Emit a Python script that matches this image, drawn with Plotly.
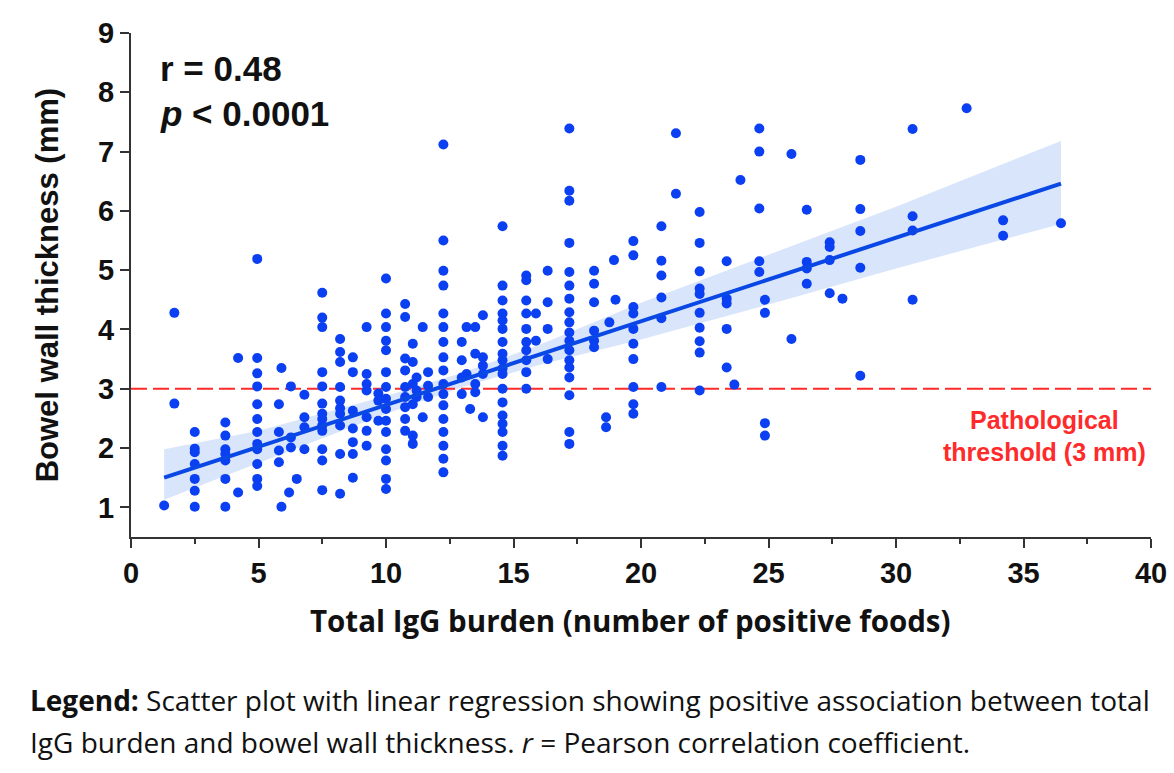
import plotly.graph_objects as go

# columns of points: x position and the thickness values stacked at that x
col_burden = [1.3, 1.7, 2.5, 3.7, 4.2, 4.95, 5.8, 5.9, 6.2, 6.27, 6.5, 6.8, 7.5, 8.2, 8.7,
              9.24, 9.7, 10.0, 10.75, 11.05, 11.2, 11.44, 11.65, 12.25, 12.97, 13.16, 13.3,
              13.5, 13.8, 14.57, 15.5, 15.88, 16.34, 17.19, 18.16, 18.63, 18.76, 18.94, 19.0,
              19.7, 20.8, 21.37, 22.3, 23.36, 23.66, 23.9, 24.64, 24.86, 25.9, 26.5, 27.4,
              27.9, 28.6, 30.65, 32.77, 34.2, 36.47]
col_thickness = [
    [1.03],
    [4.28, 2.75],
    [2.27, 1.99, 1.93, 1.73, 1.48, 1.28, 1.01],
    [2.43, 2.21, 1.98, 1.9, 1.79, 1.48, 1.01],
    [3.52, 1.25],
    [5.19, 3.52, 3.26, 3.04, 2.74, 2.49, 2.27, 2.07, 1.98, 1.73, 1.48, 1.36],
    [2.74, 2.27, 1.96, 1.76],
    [3.35, 1.01],
    [1.25],
    [3.04, 2.18, 2.01],
    [1.48],
    [2.9, 2.52, 2.35, 1.98],
    [4.62, 4.2, 4.04, 3.28, 3.04, 2.75, 2.58, 2.49, 2.38, 2.29, 1.98, 1.79, 1.29],
    [3.84, 3.62, 3.45, 3.03, 2.8, 2.67, 2.58, 2.38, 1.9, 1.23],
    [3.53, 3.28, 2.63, 2.33, 2.1, 1.9, 1.5],
    [4.04, 3.25, 3.08, 2.97, 2.52, 2.29, 2.04],
    [2.92, 2.8, 2.46],
    [4.86, 4.27, 4.04, 3.81, 3.65, 3.28, 3.03, 2.83, 2.66, 2.46, 2.27, 1.98, 1.79, 1.48, 1.31],
    [4.43, 4.21, 3.51, 3.31, 3.03, 2.86, 2.69, 2.49, 2.29],
    [3.76, 3.45, 3.08, 2.74, 2.21, 2.07],
    [3.19, 2.97, 2.86],
    [4.04, 2.52],
    [3.28, 3.05, 2.86],
    [7.12, 5.5, 4.99, 4.74, 4.27, 4.04, 3.79, 3.53, 3.31, 3.08, 2.91, 2.72, 2.49, 2.27, 2.04, 1.82, 1.59],
    [3.79, 3.48, 3.19, 2.91],
    [4.04, 3.25],
    [2.66],
    [4.04, 3.59, 3.08, 2.94],
    [4.24, 3.53, 3.39, 3.25, 2.52],
    [5.74, 4.74, 4.49, 4.27, 4.15, 4.01, 3.79, 3.59, 3.48, 3.34, 3.25, 3.0, 2.77, 2.55, 2.41, 2.27, 2.04, 1.87],
    [4.91, 4.83, 4.49, 4.27, 4.01, 3.79, 3.65, 3.48, 3.28, 3.0],
    [4.27, 3.81],
    [4.99, 4.46, 4.01, 3.5],
    [7.39, 6.34, 6.17, 5.46, 4.97, 4.74, 4.52, 4.29, 4.12, 3.95, 3.81, 3.65, 3.48, 3.36, 3.19, 2.89, 2.27, 2.07],
    [4.99, 4.77, 4.46, 3.98, 3.81, 3.7],
    [2.52, 2.35],
    [4.12],
    [5.17],
    [4.5],
    [5.49, 5.25, 4.38, 4.27, 4.01, 3.76, 3.5, 3.03, 2.74, 2.58],
    [5.74, 5.16, 4.91, 4.54, 4.19, 3.03],
    [7.31, 6.29],
    [5.98, 5.46, 4.98, 4.69, 4.6, 4.28, 4.03, 3.8, 3.61, 2.97],
    [5.15, 4.52, 4.44, 4.01, 3.36],
    [3.07],
    [6.52],
    [7.39, 7.0, 6.04, 5.15, 4.97],
    [4.5, 4.28, 2.42, 2.21],
    [6.96, 3.84],
    [6.02, 5.14, 5.03, 4.77],
    [5.47, 5.39, 5.17, 4.61],
    [4.52],
    [6.86, 6.03, 5.66, 5.04, 3.22],
    [7.38, 5.91, 5.67, 4.5],
    [7.73],
    [5.84, 5.58],
    [5.79],
]

# regression line and its confidence band
fit_x = [1.3, 36.47]
fit_y = [1.5, 6.46]
band_x = [1.3, 5, 10, 13, 16, 20, 25, 30, 36.47]
band_lower = [1.13, 1.75, 2.58, 3.03, 3.40, 3.83, 4.42, 5.03, 5.78]
band_upper = [1.98, 2.29, 2.88, 3.27, 3.74, 4.45, 5.26, 6.07, 7.18]

threshold = 3.0

xs, ys = [], []
for bx, col in zip(col_burden, col_thickness):
    for t in col:
        xs.append(bx)
        ys.append(t)

blue = "#0a3ff2"
red = "#ff2a2a"
helv = "Liberation Sans, Arial, sans-serif"
human = "Open Sans, Lato, sans-serif"

fig = go.Figure()

fig.add_trace(go.Scatter(
    x=band_x + band_x[::-1],
    y=band_upper + band_lower[::-1],
    fill="toself", fillcolor="rgba(80,135,235,0.22)",
    line=dict(width=0), mode="lines", hoverinfo="skip", showlegend=False))

fig.add_trace(go.Scatter(
    x=[0, 40], y=[threshold, threshold], mode="lines",
    line=dict(color=red, width=2, dash="16px,6px"), showlegend=False))

fig.add_trace(go.Scatter(
    x=xs, y=ys, mode="markers",
    marker=dict(color=blue, size=10), showlegend=False))

fig.add_trace(go.Scatter(
    x=fit_x, y=fit_y, mode="lines",
    line=dict(color="#0a48e6", width=4), showlegend=False))

fig.update_layout(
    width=1174, height=773,
    margin=dict(l=131, r=23, t=33, b=236, autoexpand=False),
    plot_bgcolor="white", paper_bgcolor="white",
    showlegend=False,
    xaxis=dict(
        range=[0, 40], tickvals=[0, 5, 10, 15, 20, 25, 30, 35, 40],
        ticks="outside", ticklen=9, tickwidth=2, tickcolor="#333",
        minor=dict(tickvals=[2.5, 7.5, 12.5, 17.5, 22.5, 27.5, 32.5, 37.5],
                   ticks="outside", ticklen=5, tickwidth=2, tickcolor="#333"),
        showline=True, linecolor="#333", linewidth=2, showgrid=False, zeroline=False,
        automargin=False, ticklabeloverflow="allow",
        tickfont=dict(family=helv, size=29, color="#111", weight="bold"),
    ),
    yaxis=dict(
        range=[0.5, 9], tickvals=[1, 2, 3, 4, 5, 6, 7, 8, 9],
        ticks="outside", ticklen=9, tickwidth=2, tickcolor="#333",
        showline=True, linecolor="#333", linewidth=2, showgrid=False, zeroline=False,
        automargin=False,
        tickfont=dict(family=helv, size=29, color="#111", weight="bold"),
    ),
)

ann = []
ann.append(dict(xref="paper", yref="paper", x=0.49, y=-0.165, xanchor="center", yanchor="middle",
                text="<b>Total IgG burden (number of positive foods)</b>", showarrow=False,
                font=dict(family=human, size=29.5, color="#111")))
ann.append(dict(xref="paper", yref="paper", x=-0.082, y=0.5, xanchor="center", yanchor="middle",
                textangle=-90, text="<b>Bowel wall thickness (mm)</b>", showarrow=False,
                font=dict(family=helv, size=31, color="#111")))
ann.append(dict(xref="paper", yref="paper", x=0.026, y=0.93, xanchor="left", yanchor="middle",
                text="<b>r = 0.48</b>", showarrow=False,
                font=dict(family=helv, size=35, color="#111")))
ann.append(dict(xref="paper", yref="paper", x=0.026, y=0.84, xanchor="left", yanchor="middle",
                text="<b><i>p</i> < 0.0001</b>", showarrow=False,
                font=dict(family=helv, size=35, color="#111")))
ann.append(dict(xref="paper", yref="paper", x=0.896, y=0.232, xanchor="center", yanchor="middle",
                text="<b>Pathological</b>", showarrow=False,
                font=dict(family=helv, size=25, color=red)))
ann.append(dict(xref="paper", yref="paper", x=0.896, y=0.168, xanchor="center", yanchor="middle",
                text="<b>threshold (3 mm)</b>", showarrow=False,
                font=dict(family=helv, size=25, color=red)))
ann.append(dict(xref="paper", yref="paper", x=-0.101, y=-0.323, xanchor="left", yanchor="middle",
                text="<b>Legend:</b> Scatter plot with linear regression showing positive association between total",
                showarrow=False, font=dict(family=human, size=28, color="#111")))
ann.append(dict(xref="paper", yref="paper", x=-0.101, y=-0.406, xanchor="left", yanchor="middle",
                text="IgG burden and bowel wall thickness. <i>r</i> = Pearson correlation coefficient.",
                showarrow=False, font=dict(family=human, size=28, color="#111")))
fig.update_layout(annotations=ann)

# drop the default 8px body margin and any scrollbars so the figure fills the window
fig.write_html(
    "out.html",
    config={"displayModeBar": False},
    post_script="document.body.style.margin='0';"
                "document.body.style.overflow='hidden';"
                "document.documentElement.style.overflow='hidden';",
)
